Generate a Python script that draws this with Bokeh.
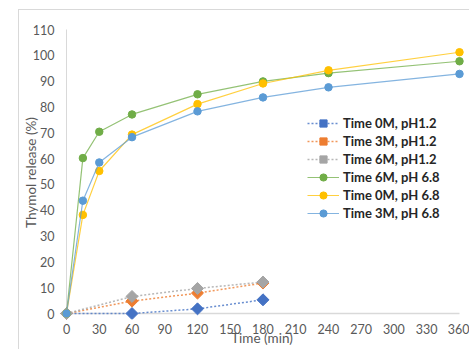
import numpy as np
from bokeh.plotting import figure
from bokeh.models import Range1d, FixedTicker, Legend, LegendItem, InlineStyleSheet
from bokeh.embed import file_html
from bokeh.resources import INLINE

# ---- data ----
t_low = [0, 60, 120, 180]
t0_ph12 = [0, 0, 1.8, 5.3]
t3_ph12 = [0, 4.8, 7.9, 11.8]
t6_ph12 = [0, 6.6, 9.7, 12.2]

t_high = [0, 15, 30, 60, 120, 180, 240, 360]
t6_ph68 = [0, 60.2, 70.4, 77.1, 84.9, 89.9, 93.1, 97.7]
t0_ph68 = [0, 38.2, 55.2, 69.3, 81.1, 89.1, 94.2, 101.2]
t3_ph68 = [0, 43.7, 58.5, 68.3, 78.3, 83.7, 87.6, 92.8]

x_ticks = list(range(0, 361, 30))
y_ticks = list(range(0, 111, 10))

names = ["Time 0M, pH1.2", "Time 3M, pH1.2", "Time 6M, pH1.2",
         "Time 6M, pH 6.8", "Time 0M, pH 6.8", "Time 3M, pH 6.8"]
colors = ["#4472C4", "#ED7D31", "#A5A5A5", "#70AD47", "#FFC000", "#5B9BD5"]

FONT = "Lato"

border_css = InlineStyleSheet(css="""
:host {
  background-color: white;
  background-image: linear-gradient(#D9D9D9, #D9D9D9), linear-gradient(#D9D9D9, #D9D9D9);
  background-size: 1px 100%, 100% 1px;
  background-position: 18px 9px, 18px 9px;
  background-repeat: no-repeat;
}
""")

p = figure(width=469, height=349, output_backend="svg", toolbar_location=None,
           x_range=Range1d(-7.33, 365.5), y_range=Range1d(-2.32, 111.55),
           min_border_left=58, min_border_right=4, min_border_top=25, min_border_bottom=30,
           stylesheets=[border_css])
p.outline_line_color = None
p.grid.visible = False
p.background_fill_color = None
p.border_fill_color = None

# axes styling
for ax in (p.xaxis[0], p.yaxis[0]):
    ax.axis_line_color = None
    ax.major_tick_line_color = None
    ax.minor_tick_line_color = None
    ax.major_tick_out = 0
    ax.major_tick_in = 0
    ax.major_label_text_font = FONT
    ax.major_label_text_font_size = "12.5px"
    ax.major_label_text_color = "#595959"
    ax.axis_label_text_font = FONT
    ax.axis_label_text_font_size = "13.5px"
    ax.axis_label_text_font_style = "normal"
    ax.axis_label_text_color = "#595959"

p.xaxis.ticker = FixedTicker(ticks=x_ticks)
p.yaxis.ticker = FixedTicker(ticks=y_ticks)
p.xaxis.axis_label = "Time (min)"
p.yaxis.axis_label = "Thymol release (%)"
p.xaxis.major_label_standoff = 4
p.xaxis.axis_label_standoff = -7
p.yaxis.major_label_standoff = 4
p.yaxis.axis_label_standoff = -9

# axis lines at data zero
p.segment(x0=[x_ticks[0]], y0=[0], x1=[x_ticks[-1]], y1=[0], line_color="#D9D9D9", line_width=1.6)
p.segment(x0=[0], y0=[y_ticks[0]], x1=[0], y1=[y_ticks[-1]], line_color="#D9D9D9", line_width=1)

series = [
    (t_low, t0_ph12, True),
    (t_low, t3_ph12, True),
    (t_low, t6_ph12, True),
    (t_high, t6_ph68, False),
    (t_high, t0_ph68, False),
    (t_high, t3_ph68, False),
]

items = []
for (xs, ys, acid), name, c in zip(series, names, colors):
    if acid:
        l = p.line(xs, ys, line_color=c, line_width=1.5, line_dash="2 2", line_alpha=0.8)
        m = p.scatter(xs, ys, marker="square", angle=np.pi / 4, size=8.5,
                      fill_color=c, line_color=c)
    else:
        l = p.line(xs, ys, line_color=c, line_width=1.2, line_alpha=0.75)
        m = p.scatter(xs, ys, marker="circle", size=7.5, fill_color=c, line_color=c)
    items.append(LegendItem(label=name, renderers=[l, m]))

legend = Legend(items=items, location=(249, 97), orientation="vertical",
                glyph_width=32, glyph_height=18, label_height=18, label_standoff=4,
                spacing=0, padding=0, margin=0, border_line_color=None,
                background_fill_alpha=0,
                label_text_font=FONT, label_text_font_size="13px",
                label_text_font_style="bold", label_text_color="#262626")
p.add_layout(legend, "center")

open("out.html", "w").write(file_html(p, INLINE))
